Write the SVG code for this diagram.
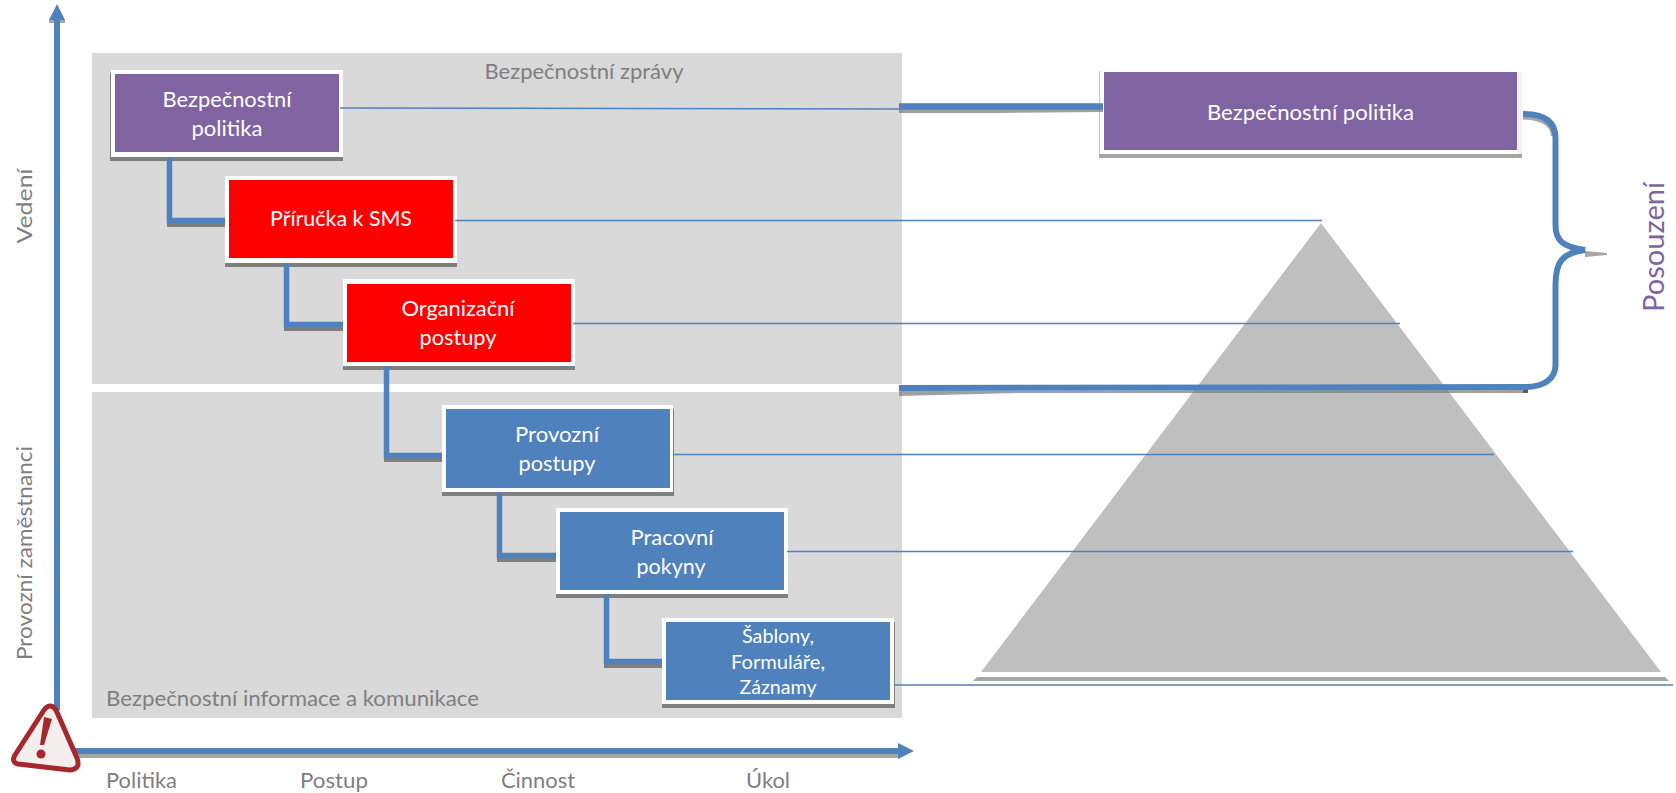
<svg xmlns="http://www.w3.org/2000/svg" width="1676" height="793" viewBox="0 0 1676 793">
<style>
text{font-family:Lato,"Liberation Sans",sans-serif;font-size:21px;fill:#fff;text-anchor:middle}
.g{fill:#7f7f7f}
.st{text-anchor:start}
.sh{fill:#7f7f7f}
.w{fill:#fff}
.pu{fill:#8064a2}.re{fill:#ff0000}.bl{fill:#4f81bd}
.thin{fill:none;stroke:#4f81bd;stroke-width:1.5}
.thick{fill:none;stroke:#4f81bd;stroke-width:6}
.tsh{fill:#7f7f7f}
.sm{font-size:20px}
</style>
<rect x="92" y="53" width="810" height="331" fill="#d9d9d9"/>
<rect x="92" y="392" width="810" height="326" fill="#d9d9d9"/>
<g id="pyramid">
<polygon points="973,681 977,677 1665,677 1669,681" fill="#a6a6a6"/>
<polygon points="1321,223 1661,672 981,672" fill="#bfbfbf"/>
</g>
<text class="g" x="584" y="79" textLength="199" lengthAdjust="spacingAndGlyphs">Bezpečnostní zprávy</text>
<text class="g st" x="106" y="706" textLength="373" lengthAdjust="spacingAndGlyphs">Bezpečnostní informace a komunikace</text>
<g id="axes">
<rect x="49" y="20" width="16" height="3" fill="#a6a6a6"/>
<path d="M54 20H60V710H54Z" class="bl"/>
<polygon points="57,4 65,20 49,20" class="bl"/>
<rect x="70" y="754" width="828" height="4" fill="#a6a6a6"/>
<path d="M70 748H900V754H70Z" class="bl"/>
<polygon points="914,751 898,743 898,759" class="bl"/>
</g>
<g id="warning">
<path d="M47 707Q52 704 56 710L77 758Q81 769 70 770L18 764Q11 762 15 755L44 710Q45.500 708 47 707Z" fill="#f4eeee" stroke="#a5282c" stroke-width="5" stroke-linejoin="round"/>
<path d="M44 717L52 719L44 745H40Z" fill="#a5282c"/>
<circle cx="41" cy="754" r="4.500" fill="#a5282c"/>
</g>
<g id="node1">
<rect class="sh" x="110" y="73" width="233" height="88"/>
<rect class="w" x="111" y="70" width="232" height="87"/>
<rect class="pu" x="115" y="74" width="224" height="78"/>
<text x="227" y="107" textLength="129" lengthAdjust="spacingAndGlyphs">Bezpečnostní</text>
<text x="227" y="136" textLength="71" lengthAdjust="spacingAndGlyphs">politika</text>
</g>
<g id="node2">
<rect class="sh" x="225" y="180" width="232" height="87"/>
<rect class="w" x="225" y="176" width="232" height="87"/>
<rect class="re" x="229" y="180" width="224" height="78"/>
<text x="341" y="226" textLength="142" lengthAdjust="spacingAndGlyphs">Příručka k SMS</text>
</g>
<g id="node3">
<rect class="sh" x="343" y="283" width="232" height="87"/>
<rect class="w" x="343" y="279" width="232" height="87"/>
<rect class="re" x="347" y="284" width="224" height="78"/>
<text x="458" y="316" textLength="113" lengthAdjust="spacingAndGlyphs">Organizační</text>
<text x="458" y="345" textLength="77" lengthAdjust="spacingAndGlyphs">postupy</text>
</g>
<g id="node4">
<rect class="sh" x="442" y="409" width="232" height="87"/>
<rect class="w" x="442" y="405" width="231" height="87"/>
<rect class="bl" x="446" y="409" width="224" height="79"/>
<text x="557" y="442" textLength="84" lengthAdjust="spacingAndGlyphs">Provozní</text>
<text x="557" y="471" textLength="77" lengthAdjust="spacingAndGlyphs">postupy</text>
</g>
<g id="node5">
<rect class="sh" x="556" y="512" width="232" height="86"/>
<rect class="w" x="556" y="508" width="232" height="86"/>
<rect class="bl" x="560" y="512" width="224" height="78"/>
<text x="672" y="545" textLength="83" lengthAdjust="spacingAndGlyphs">Pracovní</text>
<text x="671" y="574" textLength="69" lengthAdjust="spacingAndGlyphs">pokyny</text>
</g>
<g id="node6">
<rect class="sh" x="662" y="622" width="233" height="86"/>
<rect class="w" x="662" y="618" width="232" height="86"/>
<rect class="bl" x="666" y="622" width="224" height="78"/>
<text class="sm" x="778" y="643" textLength="72" lengthAdjust="spacingAndGlyphs">Šablony,</text>
<text class="sm" x="778" y="669" textLength="94" lengthAdjust="spacingAndGlyphs">Formuláře,</text>
<text class="sm" x="778" y="694" textLength="77" lengthAdjust="spacingAndGlyphs">Záznamy</text>
</g>
<g id="node7">
<rect x="1099" y="75" width="423" height="83" fill="#a6a6a6"/>
<rect x="1099" y="71" width="1" height="83" fill="#c8c8c8"/>
<rect class="w" x="1100" y="71" width="422" height="83"/>
<rect x="1517" y="72" width="5" height="82" fill="#f2f0f5"/>
<rect class="pu" x="1104" y="72" width="413" height="78"/>
<text x="1310.500" y="120" textLength="207" lengthAdjust="spacingAndGlyphs">Bezpečnostní politika</text>
</g>
<g id="connectors">
<rect class="tsh" x="167" y="223" width="58" height="4"/>
<rect class="tsh" x="284" y="327" width="59" height="4"/>
<rect class="tsh" x="384" y="458" width="58" height="4"/>
<rect class="tsh" x="497" y="558" width="59" height="4"/>
<rect class="tsh" x="604" y="664" width="58" height="4"/>
<path class="thick" style="stroke-width:5.500" d="M169.500 157V220.500H225M286.500 263V324.500H343M386.500 366V455.500H442M499.500 492V555.500H556M606.500 594V661.500H662"/>
<polygon points="899,109 1103,109 1103,112 1000,113 899,113" fill="#7f7f7f" opacity=".75"/>
<polygon points="899,391 1525,390 1525,393 1020,393 899,396" fill="#7f7f7f" opacity=".75"/>
<path d="M1523 118C1542 119 1552 124 1552.500 136" fill="none" stroke="#a6a6a6" stroke-width="3"/>
<polygon points="1585,251 1607,253 1607,255 1585,257" fill="#a6a6a6"/>
<rect x="1523" y="389" width="5" height="4" fill="#595959"/>
<path class="thick" style="stroke-width:6.500" d="M899 106.500H1103"/>
<path class="thick" d="M899 388L1525 387C1545 387 1555.500 378 1555.500 365V285C1555.500 262 1562 253 1585 250C1562 247 1555.500 240 1555.500 225V138C1555.500 122 1545 114 1523 114"/>
<path class="thin" d="M340 108L899 109M455 220.500H1322M573 323.500H1400M673 454.500H1494M787 551.500H1573M894 685H1673"/>
</g>
<text class="g" x="0" y="0" transform="translate(32,206) rotate(-90)" style="font-size:22px" textLength="75" lengthAdjust="spacingAndGlyphs">Vedení</text>
<text class="g" x="0" y="0" transform="translate(32,553) rotate(-90)" style="font-size:22px" textLength="214" lengthAdjust="spacingAndGlyphs">Provozní zaměstnanci</text>
<text x="0" y="0" transform="translate(1664,247) rotate(-90)" style="font-size:29px;fill:#8064a2" textLength="130" lengthAdjust="spacingAndGlyphs">Posouzení</text>
<text class="g st" x="106" y="788" textLength="71" lengthAdjust="spacingAndGlyphs">Politika</text>
<text class="g st" x="300" y="788" textLength="68" lengthAdjust="spacingAndGlyphs">Postup</text>
<text class="g st" x="501" y="788" textLength="74" lengthAdjust="spacingAndGlyphs">Činnost</text>
<text class="g st" x="746" y="788" textLength="44" lengthAdjust="spacingAndGlyphs">Úkol</text>
</svg>
